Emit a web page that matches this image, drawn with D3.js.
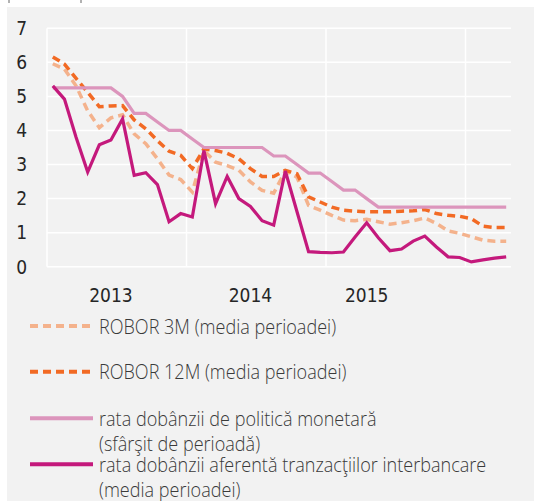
<!DOCTYPE html>
<html>
<head>
<meta charset="utf-8">
<script src="https://cdn.jsdelivr.net/npm/d3@7"></script>
<style>
body { margin: 0; background: #fff; }
</style>
</head>
<body>
<script>
// months 2013-01 .. 2016-04
var months = ["2013-01","2013-02","2013-03","2013-04","2013-05","2013-06","2013-07","2013-08","2013-09","2013-10","2013-11","2013-12",
              "2014-01","2014-02","2014-03","2014-04","2014-05","2014-06","2014-07","2014-08","2014-09","2014-10","2014-11","2014-12",
              "2015-01","2015-02","2015-03","2015-04","2015-05","2015-06","2015-07","2015-08","2015-09","2015-10","2015-11","2015-12",
              "2016-01","2016-02","2016-03","2016-04"];

var robor3m = [5.96,5.80,5.31,4.58,4.08,4.37,4.46,3.90,3.61,3.17,
               2.69,2.56,2.19,3.41,3.07,2.97,2.83,2.49,2.24,2.16,
               2.81,2.63,1.80,1.66,1.51,1.37,1.35,1.39,1.32,1.25,
               1.29,1.35,1.43,1.27,1.05,0.98,0.88,0.78,0.75,0.75];

var robor12m = [6.16,5.95,5.53,5.12,4.70,4.72,4.73,4.31,4.05,3.70,
                3.39,3.27,2.88,3.46,3.41,3.33,3.17,2.88,2.65,2.65,
                2.83,2.73,2.05,1.90,1.75,1.66,1.63,1.61,1.61,1.61,
                1.63,1.64,1.68,1.56,1.51,1.48,1.41,1.19,1.15,1.15];

var policy = [5.25,5.25,5.25,5.25,5.25,5.25,5.00,4.50,4.50,4.25,
              4.00,4.00,3.75,3.50,3.50,3.50,3.50,3.50,3.50,3.25,
              3.25,3.00,2.75,2.75,2.50,2.25,2.25,2.00,1.75,1.75,
              1.75,1.75,1.75,1.75,1.75,1.75,1.75,1.75,1.75,1.75];

var interbank = [5.31,4.92,3.80,2.78,3.58,3.72,4.34,2.68,2.76,2.41,
                 1.32,1.56,1.46,3.41,1.85,2.65,2.00,1.77,1.35,1.22,
                 2.81,1.62,0.44,0.42,0.41,0.43,0.87,1.29,0.85,0.47,
                 0.52,0.75,0.90,0.58,0.29,0.27,0.14,0.20,0.25,0.29];

var yTicks = [0,1,2,3,4,5,6,7];
var yearLabels = ["2013","2014","2015"];
var yearLabelMonths = ["2013-06","2014-06","2015-04"];
var yearStarts = ["2014-01","2015-01","2016-01"];

var seriesNames = ["ROBOR 3M (media perioadei)",
                   "ROBOR 12M (media perioadei)",
                   "rata dobânzii de politică monetară\n(sfârşit de perioadă)",
                   "rata dobânzii aferentă tranzacţiilor interbancare\n(media perioadei)"];

var series = [
  {name: seriesNames[0], values: robor3m, color: "#f4b28c", dash: "8,5"},
  {name: seriesNames[1], values: robor12m, color: "#f26a24", dash: "8,5"},
  {name: seriesNames[2], values: policy, color: "#dc95bc", dash: null},
  {name: seriesNames[3], values: interbank, color: "#c4197c", dash: null}
];

var svg = d3.select('body')
    .append('svg')
    .attr('width', 534)
    .attr('height', 501)

svg.append("rect")
    .attr("x", 7).attr("y", 7)
    .attr("width", 527).attr("height", 494)
    .attr("fill", "#f2f2f2")

// leftover frame ticks at the very top
svg.selectAll(".topmark")
    .data([9, 81])
    .enter()
    .append("line")
    .attr("x1", d => d).attr("x2", d => d)
    .attr("y1", 0).attr("y2", 3)
    .attr("stroke", "#666")

var x = d3.scalePoint()
    .domain(months)
    .range([47, 512])
    .padding(0.5)
var step = x.step();

var y = d3.scaleLinear()
    .domain([0, 7])
    .range([266.7, 28.3])

// grid
svg.selectAll(".hgrid")
    .data(yTicks)
    .enter()
    .append("line")
    .attr("x1", 47).attr("x2", 511)
    .attr("y1", d => y(d)).attr("y2", d => y(d))
    .attr("stroke", "#fff")
    .attr("stroke-width", 1.5)

var vlines = [x(months[0]) - step / 2].concat(yearStarts.map(m => x(m) - step / 2));
svg.selectAll(".vgrid")
    .data(vlines)
    .enter()
    .append("line")
    .attr("x1", d => d).attr("x2", d => d)
    .attr("y1", y(7)).attr("y2", y(0))
    .attr("stroke", "#fff")
    .attr("stroke-width", 1.5)

// axes labels
svg.selectAll(".ylab")
    .data(yTicks)
    .enter()
    .append("text")
    .attr("x", 27)
    .attr("y", d => y(d))
    .attr("dy", "0.36em")
    .attr("text-anchor", "end")
    .attr("font-family", "'Liberation Sans Narrow', 'DejaVu Sans Condensed', sans-serif")
    .attr("font-size", 19)
    .attr("fill", "#262626")
    .text(d => d)

svg.selectAll(".xlab")
    .data(yearLabels)
    .enter()
    .append("text")
    .attr("x", (d, i) => x(yearLabelMonths[i]))
    .attr("y", 302.3)
    .attr("text-anchor", "middle")
    .attr("font-family", "'Liberation Sans Narrow', 'DejaVu Sans Condensed', sans-serif")
    .attr("font-size", 19)
    .attr("fill", "#262626")
    .text(d => d)

// lines
var line = d3.line()
    .x((d, i) => x(months[i]))
    .y(d => y(d))

svg.selectAll(".series")
    .data(series)
    .enter()
    .append("path")
    .attr("d", d => line(d.values))
    .attr("fill", "none")
    .attr("stroke", d => d.color)
    .attr("stroke-width", d => d.dash ? 3.5 : 3.2)
    .attr("stroke-dasharray", d => d.dash)

// legend
var legendY = [326, 371.7, 418.3, 464.3];
var leg = svg.selectAll(".legend")
    .data(series)
    .enter()
    .append("g")
    .attr("transform", (d, i) => "translate(0," + legendY[i] + ")")

leg.append("line")
    .attr("x1", 30).attr("x2", 93)
    .attr("y1", 0).attr("y2", 0)
    .attr("stroke", d => d.color)
    .attr("stroke-width", 4)
    .attr("stroke-dasharray", d => d.dash)

// the source font is narrow, so squeeze Open Sans a bit horizontally
leg.append("text")
    .attr("transform", "translate(99,7.5) scale(0.86,1)")
    .attr("font-family", "'Open Sans', 'Noto Sans', sans-serif")
    .attr("font-size", 21)
    .attr("font-weight", 300)
    .attr("fill", "#3a3a3a")
    .selectAll("tspan")
    .data(d => d.name.split("\n"))
    .enter()
    .append("tspan")
    .attr("x", 0)
    .attr("dy", (d, i) => i ? 25.7 : 0)
    .text(d => d)
</script>
</body>
</html>
